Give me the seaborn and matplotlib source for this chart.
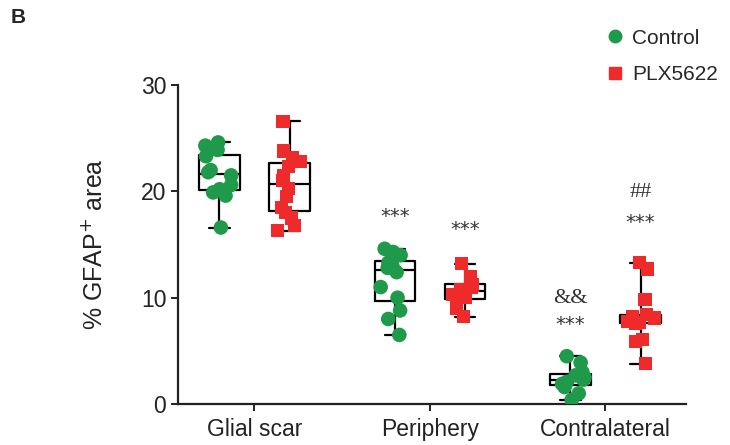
import numpy as np
import pandas as pd
import matplotlib
matplotlib.use("Agg")
import matplotlib.pyplot as plt
import seaborn as sns
from matplotlib.lines import Line2D

regions = ["Glial scar", "Periphery", "Contralateral"]
treatments = ["Control", "PLX5622"]

glial_control = [16.6, 19.6, 19.9, 20.2, 20.6, 21.5, 21.8, 22.0, 23.3, 23.9, 24.3, 24.6]
glial_plx = [16.3, 16.8, 17.5, 18.0, 18.5, 19.5, 20.3, 21.0, 21.5, 22.3, 22.8, 23.2, 23.8, 26.6]
periph_control = [6.5, 8.0, 8.8, 10.0, 11.0, 12.4, 12.8, 13.0, 13.3, 14.0, 14.3, 14.6]
periph_plx = [8.2, 9.0, 9.5, 10.0, 10.3, 10.5, 10.8, 11.0, 11.2, 11.5, 12.0, 13.2]
contra_control = [0.4, 1.0, 1.6, 1.9, 2.1, 2.3, 2.5, 2.7, 3.0, 3.9, 4.5]
contra_plx = [3.8, 5.9, 6.1, 7.6, 7.7, 7.8, 8.0, 8.1, 8.2, 8.4, 9.8, 12.7, 13.3]

# annotations: (region, treatment, text, y-value)
annot_text = ["***", "***", "&&", "***", "##", "***"]
annot_region = ["Periphery", "Periphery", "Contralateral", "Contralateral", "Contralateral", "Contralateral"]
annot_treat = ["Control", "PLX5622", "Control", "Control", "PLX5622", "PLX5622"]
annot_y = [17.6, 16.4, 9.9, 7.5, 19.9, 17.1]

series = {
    ("Glial scar", "Control"): glial_control,
    ("Glial scar", "PLX5622"): glial_plx,
    ("Periphery", "Control"): periph_control,
    ("Periphery", "PLX5622"): periph_plx,
    ("Contralateral", "Control"): contra_control,
    ("Contralateral", "PLX5622"): contra_plx,
}
rows = []
for (r, t), vals in series.items():
    for v in vals:
        rows.append({"region": r, "treatment": t, "value": v})
df = pd.DataFrame(rows)

green = "#1f9a4a"
red = "#ee2a2a"

sns.set_style("white")
plt.rcParams["font.family"] = ["Liberation Sans", "DejaVu Sans"]

fig = plt.figure(figsize=(7.3, 4.45), dpi=100)
ax = fig.add_axes([0.244, 0.092, 0.696, 0.717])

np.random.seed(3)
sns.stripplot(data=df[df.treatment == "Control"], x="region", y="value", hue="treatment",
              order=regions, hue_order=treatments, dodge=True, jitter=0.17,
              palette={"Control": green, "PLX5622": red}, marker="o", size=10.5,
              linewidth=0, legend=False, ax=ax)
sns.stripplot(data=df[df.treatment == "PLX5622"], x="region", y="value", hue="treatment",
              order=regions, hue_order=treatments, dodge=True, jitter=0.17,
              palette={"Control": green, "PLX5622": red}, marker="s", size=9.5,
              linewidth=0, legend=False, ax=ax)
sns.boxplot(data=df, x="region", y="value", hue="treatment", order=regions,
            hue_order=treatments, palette={"Control": "black", "PLX5622": "black"},
            fill=False, width=0.8, gap=0.42, whis=(0, 100), showfliers=False,
            linewidth=1.6, legend=False, ax=ax)

offs = {"Control": -0.2, "PLX5622": 0.2}
for txt, r, t, yv in zip(annot_text, annot_region, annot_treat, annot_y):
    xv = regions.index(r) + offs[t]
    if txt == "***":
        ax.text(xv, yv, txt, ha="center", va="center", fontsize=14, color="#333333",
                family=["DejaVu Sans"])
    else:
        ax.text(xv, yv, txt, ha="center", va="center", fontsize=16, color="#333333",
                family=["Liberation Serif", "DejaVu Serif"])

ax.set_xlim(-0.435, 2.46)
ax.set_ylim(0, 30)
ax.set_yticks([0, 10, 20, 30])
ax.set_xlabel("")
ax.set_ylabel("% GFAP$^{+}$ area", fontsize=18, color="#222222", labelpad=24)
for s in ["top", "right"]:
    ax.spines[s].set_visible(False)
for s in ["left", "bottom"]:
    ax.spines[s].set_linewidth(1.6)
    ax.spines[s].set_color("#222222")
ax.tick_params(axis="both", direction="out", length=5, width=1.4, color="#222222",
               labelsize=16.5, labelcolor="#222222", left=True, bottom=True)
ax.tick_params(axis="x", labelsize=16.5, pad=5)

handles = [Line2D([], [], marker="o", color=green, linestyle="none", markersize=9),
           Line2D([], [], marker="s", color=red, linestyle="none", markersize=8.5)]
fig.legend(handles, treatments, loc="upper left", bbox_to_anchor=(0.803, 0.978),
           frameon=False, fontsize=15, handletextpad=0.3, labelspacing=0.85,
           handlelength=1.0)

fig.text(0.014, 0.96, "B", fontsize=15, fontweight="bold", ha="left", va="center")

fig.savefig("out.png", dpi=100)
